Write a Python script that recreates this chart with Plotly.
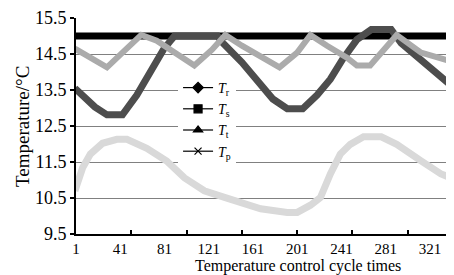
import plotly.graph_objects as go

# ---- data ----
tick_labels = [1, 41, 81, 121, 161, 201, 241, 281, 321]
minor_ticks = [51, 101, 151, 201, 251, 301]

tr_x = [1, 41, 81, 121, 161, 201, 241, 281, 321, 345]
tr_y = [15.0, 15.0, 15.0, 15.0, 15.0, 15.0, 15.0, 15.0, 15.0, 15.0]

ts_x = [0, 18, 29, 43, 56, 71, 80, 86, 90, 129, 134, 151, 166, 179, 192, 206,
        219, 231, 242, 255, 268, 286, 295, 313, 327, 345]
ts_y = [13.55, 13.03, 12.81, 12.81, 13.36, 14.18, 14.62, 14.85, 15.0, 15.0, 14.8,
        14.27, 13.72, 13.25, 12.98, 12.98, 13.36, 13.8, 14.35, 14.9, 15.18, 15.18,
        14.8, 14.35, 14.0, 13.5]

tt_x = [0, 7, 14, 25, 38, 47, 65, 83, 99, 117, 136, 154, 168, 192, 201, 213,
        222, 231, 240, 249, 258, 261, 277, 291, 313, 331, 345]
tt_y = [10.7, 11.34, 11.72, 12.02, 12.13, 12.13, 11.88, 11.53, 11.06, 10.7, 10.51,
        10.35, 10.2, 10.1, 10.1, 10.3, 10.51, 11.17, 11.72, 11.99, 12.13, 12.2,
        12.2, 11.99, 11.53, 11.17, 11.0]

tp_x = [0, 29, 43, 56, 60, 74, 86, 93, 108, 124, 136, 151, 166, 185, 201, 213,
        228, 246, 255, 267, 291, 313, 345]
tp_y = [14.65, 14.13, 14.54, 14.95, 15.03, 14.87, 14.62, 14.46, 14.18, 14.62, 15.03,
        14.73, 14.46, 14.13, 14.54, 15.03, 14.73, 14.4, 14.18, 14.18, 15.03, 14.54,
        14.25]

series_names = ["<i>T</i><sub>r</sub>", "<i>T</i><sub>s</sub>",
                "<i>T</i><sub>t</sub>", "<i>T</i><sub>p</sub>"]
legend_symbols = ["diamond", "square", "triangle-up", "x-thin"]

FONT = "Liberation Serif, Times New Roman, serif"

fig = go.Figure()

# data bands (dense markers in the original look like thick bands)
fig.add_trace(go.Scatter(x=tr_x, y=tr_y, mode="lines",
                         line=dict(color="#000000", width=7), showlegend=False))
fig.add_trace(go.Scatter(x=ts_x, y=ts_y, mode="lines",
                         line=dict(color="#4d4d4d", width=7), showlegend=False))
fig.add_trace(go.Scatter(x=tt_x, y=tt_y, mode="lines",
                         line=dict(color="#d9d9d9", width=7), showlegend=False))
fig.add_trace(go.Scatter(x=tp_x, y=tp_y, mode="lines",
                         line=dict(color="#ababab", width=6), showlegend=False))

# legend entries
for name, sym in zip(series_names, legend_symbols):
    fig.add_trace(go.Scatter(
        x=[None], y=[None], mode="lines+markers", name=name,
        line=dict(color="#000000", width=1.2),
        marker=dict(symbol=sym, size=8 if sym != "x-thin" else 7,
                    color="#000000", line=dict(color="#000000", width=1.2)),
    ))

# the page body adds an 8px offset, so the figure is sized 8px smaller
fig.update_layout(
    width=446, height=267,
    margin=dict(l=68, r=0, t=7, b=41),
    plot_bgcolor="white", paper_bgcolor="white",
    font=dict(family=FONT, color="#000000"),
    showlegend=True,
    legend=dict(x=0.27, y=0.75, xanchor="left", yanchor="top",
                bgcolor="white", borderwidth=0, font=dict(size=14, family=FONT),
                tracegroupgap=0, itemwidth=30),
)

fig.update_xaxes(
    range=[1, 342.8],
    tickmode="array", tickvals=tick_labels, ticktext=[str(v) for v in tick_labels],
    ticks="outside", ticklen=0, ticklabelstandoff=0,
    tickfont=dict(size=15, family=FONT),
    showgrid=False, zeroline=False,
    showline=True, linecolor="#000000", linewidth=2,
    minor=dict(tickmode="array", tickvals=minor_ticks,
               ticks="inside", ticklen=4, tickcolor="#000000", tickwidth=1.5,
               showgrid=False),
)
fig.update_yaxes(
    range=[9.5, 15.5], tick0=9.5, dtick=1,
    ticks="outside", ticklen=4, tickcolor="#000000", tickwidth=1.5,
    tickfont=dict(size=18, family=FONT), ticklabeloverflow="allow",
    showgrid=True, gridcolor="#808080", gridwidth=1,
    zeroline=False,
    showline=True, linecolor="#000000", linewidth=2,
)

fig.add_annotation(text="Temperature control cycle times", xref="paper", yref="paper",
                   x=0.586, y=-0.146, xanchor="center", yanchor="middle",
                   showarrow=False, font=dict(size=16, family=FONT))
fig.add_annotation(text="Temperature/°C", xref="paper", yref="paper",
                   x=-0.143, y=0.5, xanchor="center", yanchor="middle", textangle=-90,
                   showarrow=False, font=dict(size=19, family=FONT))

fig.write_html("out.html")
